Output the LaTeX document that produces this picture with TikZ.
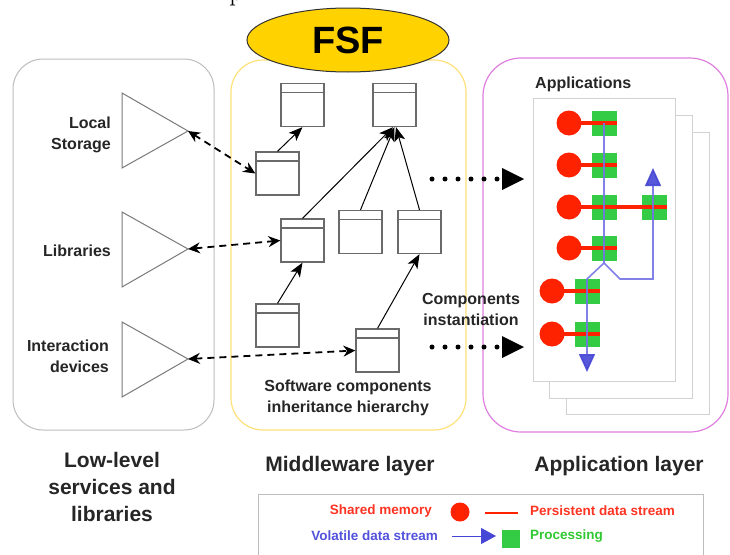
\documentclass[tikz,border=0pt]{standalone}
\usepackage{fontspec}
\setsansfont{Liberation Sans}
\usetikzlibrary{arrows.meta,shapes.geometric}
\definecolor{txt}{HTML}{262626}
\definecolor{lowgray}{HTML}{BDBDBD}
\definecolor{midyel}{HTML}{FFE17A}
\definecolor{appvio}{HTML}{E07FE0}
\definecolor{fsfgold}{HTML}{FFD200}
\definecolor{shred}{HTML}{FF2200}
\definecolor{procgreen}{HTML}{35CC45}
\definecolor{volblue}{HTML}{4646D6}
\definecolor{volline}{HTML}{7474E6}
\definecolor{pagegray}{HTML}{D2D2D2}
\definecolor{wingray}{HTML}{6A6A6A}
\definecolor{trigray}{HTML}{7A7A7A}
\definecolor{legred}{HTML}{FF3322}
\definecolor{legblue}{HTML}{5252DC}
\definecolor{leggreen}{HTML}{30C830}
\begin{document}
\begin{tikzpicture}[x=1pt,y=-1pt,
  lbl/.style={font=\sffamily\bfseries\fontsize{16}{21}\selectfont, text=txt, align=center, inner sep=0pt},
  layerlbl/.style={font=\sffamily\bfseries\fontsize{21}{27}\selectfont, text=txt, align=center, inner sep=0pt},
  leglbl/.style={font=\sffamily\bfseries\fontsize{13.5}{16}\selectfont, inner sep=0pt},
  win/.style={draw=wingray, line width=1.3pt, fill=white, minimum width=43pt, minimum height=43pt, inner sep=0pt,
    path picture={\draw[wingray, line width=1.3pt] ([yshift=-9pt]path picture bounding box.north west) -- ([yshift=-9pt]path picture bounding box.north east);}},
  tri/.style={draw=trigray, line width=1pt, fill=white},
  inh/.style={black, line width=1pt, -{Stealth[length=14pt,width=11pt,inset=3.5pt]}},
  dep/.style={black, line width=1.8pt, dash pattern=on 7pt off 5pt, {Stealth[length=12pt,width=11pt]}-{Stealth[length=12pt,width=11pt]}},
  dotarrow/.style={black, line width=5pt, dash pattern=on 0pt off 13pt, line cap=round, -{Triangle[length=22pt,width=22pt,line width=0pt]}},
  shm/.style={circle, fill=shred, minimum size=25pt, inner sep=0pt},
  proc/.style={fill=procgreen, minimum size=25pt, inner sep=0pt},
  persist/.style={shred, line width=4.5pt},
  vol/.style={volline, line width=1.6pt, opacity=0.9},
  page/.style={draw=pagegray, fill=white, line width=1pt}
]
\useasboundingbox[fill=white] (0,0) rectangle (730,554);

% cropped glyph at the very top
\node[font=\rmfamily\fontsize{28}{28}\selectfont, anchor=base west, inner sep=0pt] (topglyph) at (229,0.5) {p};

% layer boxes
\draw[lowgray, line width=1pt, rounded corners=30pt] (13,59) rectangle (214,430);
\draw[midyel, line width=1.2pt, rounded corners=32pt] (231,60) rectangle (466,430);
\draw[appvio, line width=1.2pt, rounded corners=38pt] (483,58) rectangle (728,432);

% FSF
\node[ellipse, draw=black!80, line width=1pt, fill=fsfgold, minimum width=202pt, minimum height=64pt, inner sep=0pt,
      font=\sffamily\bfseries\fontsize{38}{38}\selectfont] (fsf) at (348,40) {FSF};

% low-level triangles
\draw[tri] (122,93) -- (188,131) -- (122,168) -- cycle;
\coordinate (lsT) at (188,131);
\draw[tri] (122,212) -- (188,249) -- (122,287) -- cycle;
\coordinate (libT) at (188,249);
\draw[tri] (122,322) -- (188,359) -- (122,397) -- cycle;
\coordinate (intT) at (188,359);

\node[lbl, align=right, anchor=east] (lsL) at (111,135) {Local\\Storage};
\node[lbl, align=right, anchor=east] (libL) at (111,251) {Libraries};
\node[lbl, align=right, anchor=east] (intL) at (109,356) {Interaction\\devices};

% middleware components
\node[win] (A) at (302.5,105) {};
\node[win] (B) at (394.5,105) {};
\node[win] (C) at (277.5,173.5) {};
\node[win] (D) at (302.5,240.5) {};
\node[win] (E) at (360.5,232) {};
\node[win] (F) at (419.5,232) {};
\node[win] (G) at (277.5,325.5) {};
\node[win] (H) at (377.5,350.5) {};

\draw[inh] (C.north) -- (A.south);
\draw[inh] (D.north) -- ([xshift=-1.5pt]B.south);
\draw[inh] (E.north) -- (B.south);
\draw[inh] (F.north) -- ([xshift=1.5pt]B.south);
\draw[inh] (G.north) -- (D.south);
\draw[inh] (H.north) -- (F.south);

\draw[dep] (lsT) -- (C.west);
\draw[dep] (libT) -- (D.west);
\draw[dep] (intT) -- (H.west);

\node[lbl] (swL) at (348,398) {Software components\\inheritance hierarchy};

% instantiation arrows
\coordinate (d1s) at (432,179);
\coordinate (d1e) at (524,179);
\coordinate (d2s) at (432,347);
\coordinate (d2e) at (524,347);
\draw[dotarrow] (d1s) -- (d1e);
\draw[dotarrow] (d2s) -- (d2e);
\node[lbl] (ciL) at (471,309) {Components\\instantiation};

% application pages
\draw[page] (566,132) rectangle (709,414);
\draw[page] (549,115) rectangle (692,398);
\draw[page] (533,98) rectangle (675,381);
\node[lbl, anchor=west] (appL) at (535,84) {Applications};

% application components
\node[proc] (p1) at (604,123) {};
\node[proc] (p2) at (604,165) {};
\node[proc] (p3) at (604,207) {};
\node[proc] (p7) at (654,207) {};
\node[proc] (p4) at (604,248) {};
\node[proc] (p5) at (587,291) {};
\node[proc] (p6) at (587,334) {};
\node[shm] (c1) at (569,123) {};
\node[shm] (c2) at (569,165) {};
\node[shm] (c3) at (569,207) {};
\node[shm] (c4) at (569,248) {};
\node[shm] (c5) at (552,291) {};
\node[shm] (c6) at (552,334) {};
\draw[persist] (c1.center) -- (p1.east);
\draw[persist] (c2.center) -- (p2.east);
\draw[persist] (c3.center) -- (p7.east);
\draw[persist] (c4.center) -- (p4.east);
\draw[persist] (c5.center) -- (p5.east);
\draw[persist] (c6.center) -- (p6.east);

\coordinate (bj) at (604,263);
\coordinate (bl) at (587,279);
\coordinate (br1) at (620,279);
\coordinate (br2) at (653,279);
\coordinate (vdown) at (587,372);
\coordinate (vup) at (653,168);
\draw[vol] (p1.center) -- (bj);
\draw[vol, -{Triangle[length=18pt,width=16pt,color=volblue]}] (bj) -- (bl) -- (vdown);
\draw[vol, -{Triangle[length=18pt,width=16pt,color=volblue]}] (bj) -- (br1) -- (br2) -- (vup);

% layer titles
\node[layerlbl] (lowL) at (112,487) {Low-level\\services and\\libraries};
\node[layerlbl] (midL) at (350,466) {Middleware layer};
\node[layerlbl] (appLL) at (619,466) {Application layer};

% legend
\draw[lowgray, line width=1pt] (258,494) rectangle (703,600);
\node[leglbl, text=legred, anchor=east] (lg1) at (432,511) {Shared memory};
\node[circle, fill=shred, minimum size=19pt, inner sep=0pt] (lgc) at (460,512) {};
\coordinate (lgl1) at (485,513);
\coordinate (lgl2) at (518,513);
\draw[shred, line width=2.5pt] (lgl1) -- (lgl2);
\node[leglbl, text=legred, anchor=west] (lg2) at (530,511) {Persistent data stream};
\node[leglbl, text=legblue, anchor=east] (lg3) at (438,536) {Volatile data stream};
\coordinate (lga1) at (452,536);
\coordinate (lga2) at (496,536);
\draw[volblue, line width=1pt, -{Triangle[length=15pt,width=16pt]}] (lga1) -- (lga2);
\node[fill=procgreen, minimum size=18pt, inner sep=0pt] (lgs) at (510.5,538.5) {};
\node[leglbl, text=leggreen, anchor=west] (lg4) at (530,536) {Processing};
\end{tikzpicture}
\end{document}
